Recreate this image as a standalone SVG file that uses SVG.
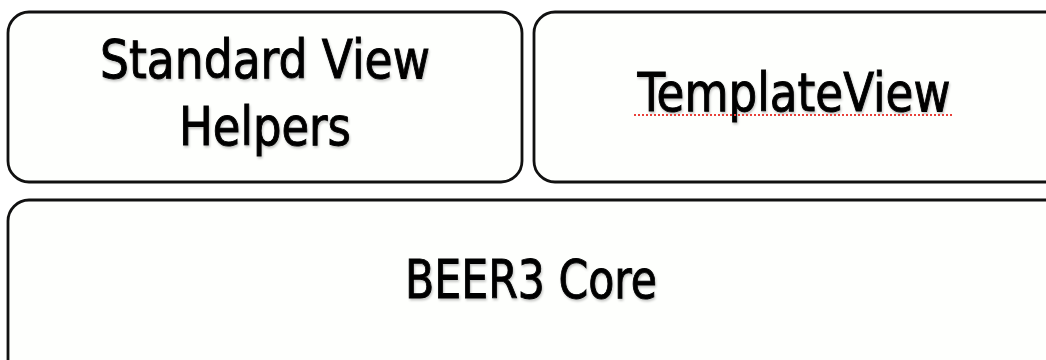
<svg xmlns="http://www.w3.org/2000/svg" width="1046" height="360" viewBox="0 0 1046 360">
  <defs>
    <filter id="soft" x="-10%" y="-20%" width="120%" height="150%">
      <feDropShadow dx="1" dy="2" stdDeviation="1.2" flood-color="#000" flood-opacity="0.22"/>
    </filter>
  </defs>
  <style>
    .box { fill: #fefffd; stroke: #111; stroke-width: 2.8; }
    .label { font-family: "DejaVu Sans Condensed", "Liberation Sans Narrow", sans-serif; font-size: 53px; fill: #000; stroke: #000; stroke-width: 0.9; text-anchor: middle; filter: url(#soft); }
    .spell { stroke: #e8403a; stroke-width: 2; stroke-dasharray: 2 2; fill: none; }
  </style>
  <rect width="1046" height="360" fill="#ffffff"/>
  <g id="standard-view-helpers">
    <rect class="box" x="8" y="12" width="514" height="170" rx="21"/>
    <text class="label" x="265" y="78" textLength="330" lengthAdjust="spacingAndGlyphs">Standard View</text>
    <text class="label" x="265" y="145" textLength="172" lengthAdjust="spacingAndGlyphs">Helpers</text>
  </g>
  <g id="template-view">
    <rect class="box" x="534" y="12" width="540" height="170" rx="21"/>
    <text class="label" x="794" y="111" textLength="313" lengthAdjust="spacingAndGlyphs">TemplateView</text>
    <line class="spell" x1="634" y1="115" x2="954" y2="115"/>
  </g>
  <g id="beer3-core">
    <rect class="box" x="8" y="200" width="1070" height="200" rx="21"/>
    <text class="label" x="531" y="298" textLength="252" lengthAdjust="spacingAndGlyphs">BEER3 Core</text>
  </g>
  <g id="connectors"/>
</svg>
